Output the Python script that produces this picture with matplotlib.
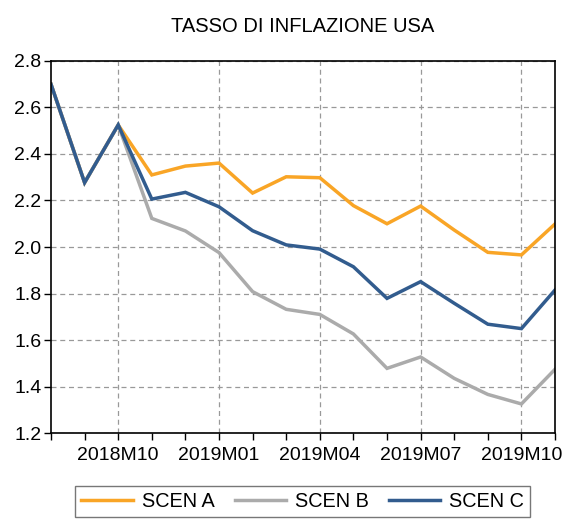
import matplotlib
matplotlib.use('Agg')
import matplotlib.pyplot as plt

plt.rcParams['font.family'] = ['Liberation Sans', 'DejaVu Sans']

# months 2018M08 .. 2019M11
months = ['2018M08', '2018M09', '2018M10', '2018M11', '2018M12',
          '2019M01', '2019M02', '2019M03', '2019M04', '2019M05', '2019M06',
          '2019M07', '2019M08', '2019M09', '2019M10', '2019M11']

scen_a = [2.70, 2.277, 2.525, 2.310, 2.348, 2.361, 2.232, 2.302, 2.298,
          2.178, 2.100, 2.176, 2.073, 1.977, 1.966, 2.099]
scen_b = [2.70, 2.277, 2.525, 2.123, 2.069, 1.976, 1.808, 1.732, 1.710,
          1.626, 1.478, 1.527, 1.435, 1.366, 1.325, 1.474]
scen_c = [2.70, 2.277, 2.525, 2.206, 2.235, 2.173, 2.070, 2.009, 1.991,
          1.915, 1.779, 1.851, 1.758, 1.668, 1.649, 1.815]

labels = ['SCEN A', 'SCEN B', 'SCEN C']
colors = ['#F9A526', '#ABABAB', '#325C8E']

fig = plt.figure(figsize=(5.66, 5.2), dpi=100)
ax = fig.add_axes([0.0901, 0.1673, 0.8905, 0.7154])

x = list(range(len(months)))
for s, lab, c in zip([scen_a, scen_b, scen_c], labels, colors):
    ax.plot(x, s, color=c, lw=2.5, label=lab, solid_joinstyle='miter')

ax.set_xlim(0, len(months) - 1)
ax.set_ylim(1.2, 2.8)
ax.set_yticks([1.2, 1.4, 1.6, 1.8, 2.0, 2.2, 2.4, 2.6, 2.8])
ax.set_yticklabels(['1.2', '1.4', '1.6', '1.8', '2.0', '2.2', '2.4', '2.6', '2.8'])

major = [i for i, m in enumerate(months) if m[-2:] in ('01', '04', '07', '10')]
ax.set_xticks(major)
ax.set_xticklabels([months[i] for i in major])
ax.set_xticks(x, minor=True)

ax.grid(True, which='major', color='#999999', ls=(0, (4, 3)), lw=0.9)
ax.tick_params(axis='both', which='both', direction='out', length=5, width=1, labelsize=14)
ax.tick_params(axis='x', which='both', pad=5)
ax.tick_params(axis='y', pad=2)
for sp in ax.spines.values():
    sp.set_linewidth(1.2)

ax.set_title('TASSO DI INFLAZIONE USA', fontsize=14.5, pad=21)

leg = fig.legend(loc='upper center', bbox_to_anchor=(0.535, 0.065), ncol=3,
                 fontsize=14.3, frameon=True, fancybox=False, handlelength=2.6,
                 handletextpad=0.45, columnspacing=1.0, borderpad=0.3,
                 borderaxespad=0)
leg.get_frame().set_edgecolor('#555555')
leg.get_frame().set_linewidth(1.0)

fig.savefig('out.png', dpi=100)
